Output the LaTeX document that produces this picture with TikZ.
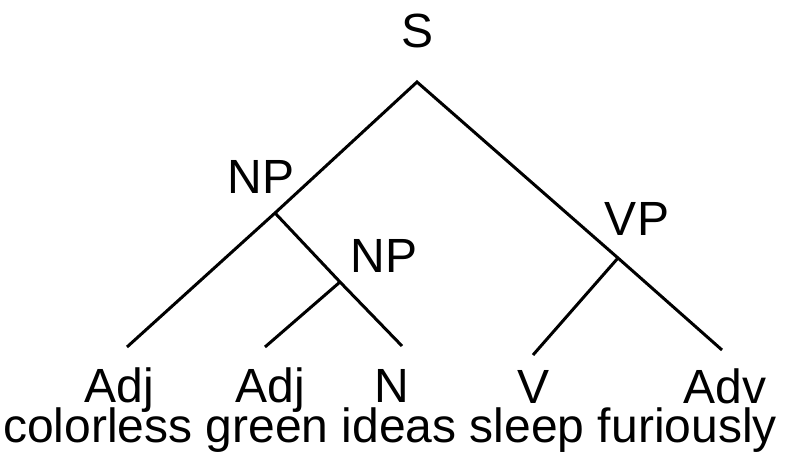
\documentclass[tikz,border=0pt]{standalone}
\usepackage{fontspec}
\setmainfont{Liberation Sans}
\begin{document}
\begin{tikzpicture}[x=1pt,y=-1pt,
  lbl/.style={anchor=base,inner sep=0pt,font=\fontsize{48}{58}\selectfont},
  branch/.style={line width=3pt,black}]
\useasboundingbox (0,0) rectangle (788,460);
% labels
\node[lbl] (S) at (418,48) {S};
\node[lbl] (NPa) at (261,193) {NP};
\node[lbl] (NPb) at (384,272) {NP};
\node[lbl] (VP) at (637,235) {VP};
\node[lbl] (Adja) at (119,402) {Adj};
\node[lbl] (Adjb) at (270,402) {Adj};
\node[lbl] (N) at (392,402) {N};
\node[lbl] (V) at (534,403) {V};
\node[lbl] (Adv) at (725,403) {Adv};
\node[lbl] (words) at (390,442) {colorless green ideas sleep furiously};
% junctions and ends
\coordinate (top) at (417,82);
\coordinate (jnpa) at (275,213);
\coordinate (jnpb) at (340,282);
\coordinate (jvp) at (618,258);
\coordinate (eadja) at (127,347);
\coordinate (eadjb) at (265,347);
\coordinate (en) at (402,346);
\coordinate (ev) at (533,355);
\coordinate (eadv) at (722,350);
% branches
\draw[branch] (eadja) -- (jnpa) -- (top) -- (jvp) -- (eadv);
\draw[branch] (jnpa) -- (jnpb) -- (en);
\draw[branch] (jnpb) -- (eadjb);
\draw[branch] (jvp) -- (ev);
\end{tikzpicture}
\end{document}
